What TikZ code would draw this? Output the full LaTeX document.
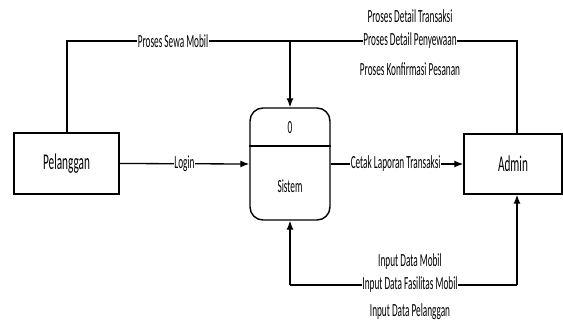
\documentclass[tikz,border=0pt]{standalone}
\usepackage{fontspec}
\setmainfont{Carlito}[FakeStretch=0.5]
\usetikzlibrary{arrows.meta}
\tikzset{
  ent/.style={draw, line width=1.4pt, minimum width=105pt, minimum height=61pt, inner sep=0pt, font=\fontsize{22.5}{24}\selectfont},
  proc/.style={draw, line width=1.4pt, rounded corners=13pt, minimum width=80pt, minimum height=112pt, inner sep=0pt},
  flow/.style={line width=1.3pt},
  arr/.style={line width=1.3pt, -{Latex[length=9pt,width=7pt]}},
  lbl/.style={font=\fontsize{18.5}{20}\selectfont, inner sep=0.5pt},
  lblw/.style={lbl, fill=white},
}
\begin{document}
\begin{tikzpicture}[x=1pt,y=-1pt]
\useasboundingbox (0,0) rectangle (563,326);
\node[ent] (pel) at (66.5,163.5) {Pelanggan};
\node[ent, minimum width=98pt, minimum height=60pt] (adm) at (513,164) {Admin};
\node[proc] (sis) at (290,164) {};
\draw[line width=1.4pt] (sis.west |- 0,146) -- (sis.east |- 0,146);
\node[lbl] (zero) at (290,128) {0};
\node[lbl] (sistem) at (290,186) {Sistem};
% top flow
\coordinate (tl) at (67,41);
\coordinate (tm) at (290,41);
\coordinate (tr) at (517,41);
\draw[flow] (pel.north -| tl) -- (tl) -- (tr) -- (tr |- adm.north);
\draw[arr] (tm) -- (sis.north);
\node[lblw] (l1) at (173,41) {Proses Sewa Mobil};
\node[lbl] (l2) at (410,16) {Proses Detail Transaksi};
\node[lblw] (l3) at (410,41) {Proses Detail Penyewaan};
\node[lbl] (l4) at (410,69) {Proses Konfirmasi Pesanan};
% middle flows
\draw[arr] (pel.east) -- (sis.west) node[lblw, pos=0.5] (llogin) {Login};
\draw[arr] (sis.east) -- (adm.west) node[lblw, pos=0.49] (lcetak) {Cetak Laporan Transaksi};
% bottom flow
\coordinate (bl) at (290,285);
\coordinate (br) at (517,285);
\draw[flow] (bl) -- (br);
\draw[arr] (bl) -- (sis.south);
\draw[arr] (br) -- (br |- adm.south);
\node[lbl] (b1) at (410,262) {Input Data Mobil};
\node[lblw] (b2) at (410,285) {Input Data Fasilitas Mobil};
\node[lbl] (b3) at (410,312) {Input Data Pelanggan};
\end{tikzpicture}
\end{document}
